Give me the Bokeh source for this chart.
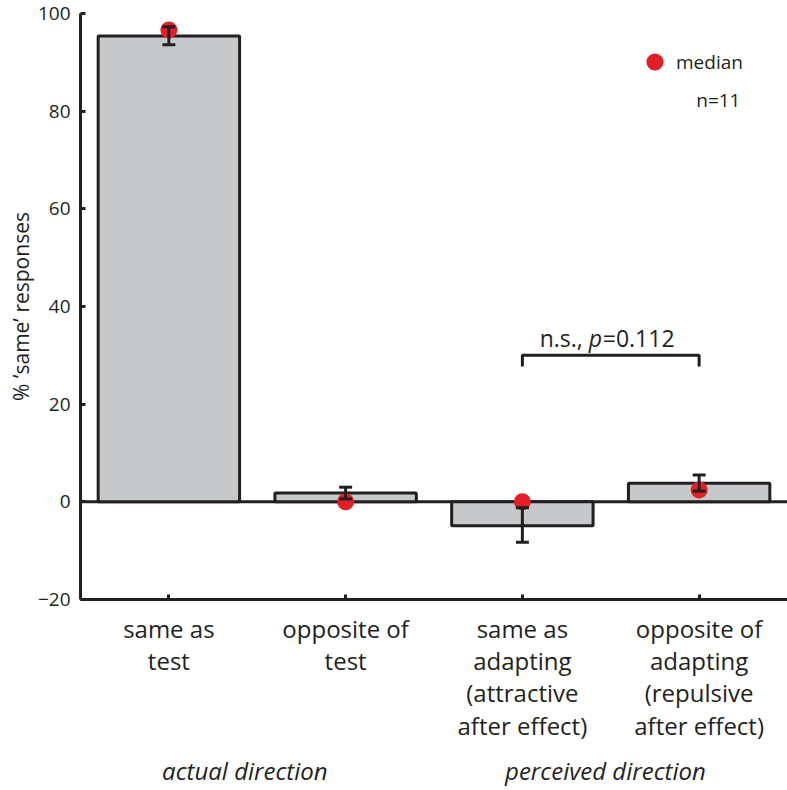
from bokeh.plotting import figure
from bokeh.models import (ColumnDataSource, Whisker, TeeHead, Span, Label, Legend,
                          LegendItem, FixedTicker, Range1d, LinearAxis)
from bokeh.embed import file_html
from bokeh.resources import INLINE

# ---- data ----
categories = ["same as\ntest",
              "opposite of\ntest",
              "same as\nadapting\n(attractive\nafter effect)",
              "opposite of\nadapting\n(repulsive\nafter effect)"]
positions = [1, 2, 3, 4]
mean_pct = [95.4, 1.8, -4.9, 3.8]
err_low = [93.6, 0.6, -8.3, 2.2]
err_high = [97.3, 3.0, -1.2, 5.5]
median_pct = [96.6, 0.0, 0.0, 2.4]
y_ticks = [-20, 0, 20, 40, 60, 80, 100]
groups = ["actual direction", "perceived direction"]
group_centers = [1.43, 3.47]
sig_pair = [3, 4]
sig_level = 30.0
sig_drop = 2.3
n_subjects = 11
p_value = 0.112

INK = "#231f20"
RED = "#e21f26"
BAR = "#c7c8ca"
FONT = "Open Sans"

src = ColumnDataSource(dict(x=positions, mean=mean_pct, lo=err_low, hi=err_high,
                            median=median_pct))

p = figure(width=787, height=790, x_range=Range1d(0.5, 4.5), y_range=Range1d(-20, 100),
           output_backend="svg", toolbar_location=None,
           min_border_left=80, min_border_right=0, min_border_top=13, min_border_bottom=191)
p.outline_line_color = None
p.grid.visible = False
p.background_fill_color = "white"
p.border_fill_color = "white"

# zero line
p.add_layout(Span(location=0, dimension="width", line_color=INK, line_width=3, level="underlay"))

# bars
p.vbar(x="x", top="mean", bottom=0, width=0.8, source=src,
       fill_color=BAR, line_color=INK, line_width=3)

# medians
r_med = p.scatter("x", "median", source=src, size=17, fill_color=RED, line_color=None)

# error bars (drawn above bars and medians)
p.add_layout(Whisker(source=src, base="x", upper="hi", lower="lo", line_color=INK, line_width=3,
                     level="annotation",
                     upper_head=TeeHead(size=13, line_color=INK, line_width=3),
                     lower_head=TeeHead(size=13, line_color=INK, line_width=3)))

# significance bracket
a, b = sig_pair
p.line([a, a, b, b], [sig_level - sig_drop, sig_level, sig_level, sig_level - sig_drop],
       line_color=INK, line_width=3)
mid = (a + b) / 2
ty = 33.6
p.add_layout(Label(x=mid, y=ty, x_offset=-28, text="n.s.,", text_align="right",
                   text_baseline="alphabetic", text_font=FONT, text_font_size="23px",
                   text_color=INK))
p.add_layout(Label(x=mid, y=ty, x_offset=-22, text="p", text_align="left",
                   text_baseline="alphabetic", text_font=FONT, text_font_size="23px",
                   text_font_style="italic", text_color=INK))
p.add_layout(Label(x=mid, y=ty, x_offset=-8, text="=" + str(p_value), text_align="left",
                   text_baseline="alphabetic", text_font=FONT, text_font_size="23px",
                   text_color=INK))

# legend
legend = Legend(items=[LegendItem(label="median", renderers=[r_med])],
                location=(553, 516), glyph_width=43, glyph_height=43, label_standoff=0,
                padding=0, spacing=0, margin=0, border_line_color=None,
                background_fill_alpha=0, label_text_font=FONT, label_text_font_size="19px",
                label_text_color=INK)
p.add_layout(legend)

p.add_layout(Label(x=4.234, y=82.2, text="n=" + str(n_subjects), text_align="right",
                   text_baseline="middle", text_font=FONT, text_font_size="19px",
                   text_color=INK))

# axes
p.yaxis.ticker = FixedTicker(ticks=y_ticks)
p.yaxis.major_label_overrides = {-20: "\u221220"}
p.yaxis.axis_label = "% \u2019same\u2019 responses"
p.xaxis.ticker = FixedTicker(ticks=positions)
p.xaxis.major_label_overrides = {pos: cat for pos, cat in zip(positions, categories)}

for ax in (p.xaxis, p.yaxis):
    ax.axis_line_width = 3
    ax.axis_line_color = INK
    ax.major_tick_in = 5
    ax.major_tick_out = 0
    ax.major_tick_line_width = 3
    ax.major_tick_line_color = INK
    ax.minor_tick_line_color = None
    ax.major_label_text_font = FONT
    ax.major_label_text_color = INK

p.yaxis.major_label_standoff = 10
p.yaxis.major_label_text_font_size = "19px"
p.yaxis.axis_label_text_font = FONT
p.yaxis.axis_label_text_font_size = "21px"
p.yaxis.axis_label_text_font_style = "normal"
p.yaxis.axis_label_text_color = INK
p.yaxis.axis_label_text_line_height = 1.0
p.yaxis.axis_label_standoff = 0

p.xaxis.major_label_standoff = 12
p.xaxis.major_label_text_font_size = "24px"
p.xaxis.major_label_text_line_height = 0.98

# group labels as a second, bare axis below the category axis
gax = LinearAxis(ticker=FixedTicker(ticks=group_centers),
                 major_label_overrides={gx: g for gx, g in zip(group_centers, groups)},
                 axis_line_color=None, major_tick_line_color=None, minor_tick_line_color=None,
                 major_tick_in=0, major_tick_out=0, major_label_standoff=9,
                 major_label_text_font=FONT, major_label_text_font_size="24px",
                 major_label_text_font_style="italic", major_label_text_color=INK)
p.add_layout(gax, "below")

open("out.html", "w").write(file_html(p, INLINE))
